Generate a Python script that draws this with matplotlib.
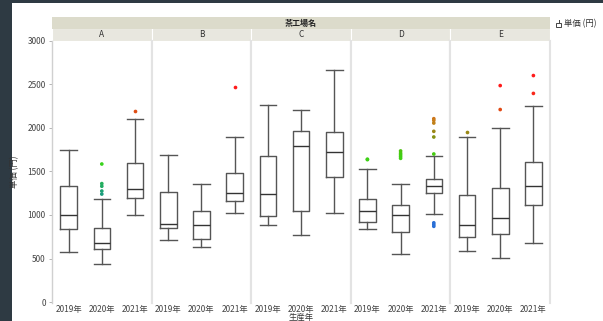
import matplotlib.pyplot as plt
import numpy as np
from matplotlib.colors import LinearSegmentedColormap, Normalize
from matplotlib.lines import Line2D
from matplotlib.patches import Rectangle

plt.rcParams["font.family"] = ["Noto Sans CJK JP", "DejaVu Sans"]

factories = ["A", "B", "C", "D", "E"]
years = ["2019年", "2020年", "2021年"]

# box statistics per factory, one value per year
whislo = [[575, 435, 995], [715, 630, 1025], [890, 765, 1025], [840, 555, 1010], [590, 505, 675]]
q1 = [[840, 615, 1195], [845, 725, 1160], [985, 1050, 1440], [915, 805, 1250], [745, 785, 1115]]
med = [[995, 680, 1300], [895, 885, 1250], [1245, 1790, 1720], [1050, 995, 1330], [880, 970, 1330]]
q3 = [[1330, 850, 1595], [1265, 1050, 1485], [1675, 1965, 1950], [1185, 1115, 1415], [1225, 1310, 1605]]
whishi = [[1745, 1180, 2100], [1690, 1360, 1895], [2260, 2200, 2665], [1525, 1360, 1675], [1900, 1995, 2250]]
fliers = [
    [[], [1585, 1360, 1330, 1275, 1240], [2195]],
    [[], [], [2465]],
    [[], [], []],
    [[1640, 1635], [1735, 1710, 1690, 1670, 1650],
     [2105, 2085, 2055, 1960, 1895, 1700, 910, 890, 870]],
    [[1950], [2210, 2485], [2395, 2600]],
]

# outlier colour follows the price
price_cmap = LinearSegmentedColormap.from_list(
    "price",
    [(0.0, "#2a6fd6"), (0.06, "#2a6fd6"), (0.25, "#1a9e7a"), (0.44, "#3ad41a"),
     (0.5, "#44cc10"), (0.62, "#8c8a14"), (0.71, "#c8801a"), (0.78, "#e04a14"),
     (0.92, "#ff1a1a"), (1.0, "#ff1a1a")],
)
price_norm = Normalize(800, 2600)

W, H = 603, 321
fig = plt.figure(figsize=(W / 100, H / 100), dpi=100, facecolor="#2e3a43")
fig.patches.append(Rectangle((12 / W, 0), 1, 1 - 3 / H, transform=fig.transFigure,
                             facecolor="white", edgecolor="none", zorder=-10))

left, right = 52 / W, 550 / W
bottom, top = 1 - 303 / H, 1 - 40.7 / H
axes = fig.subplots(1, 5, sharey=True)
fig.subplots_adjust(left=left, right=right, bottom=bottom, top=top, wspace=0)

box_color = "#555555"
grid_color = "#e3e3e3"
positions = np.arange(len(years))

for i, ax in enumerate(axes):
    stats = []
    for j in range(len(years)):
        stats.append({"whislo": whislo[i][j], "q1": q1[i][j], "med": med[i][j],
                      "q3": q3[i][j], "whishi": whishi[i][j], "fliers": []})
    ax.bxp(stats, positions=positions, widths=0.5, showfliers=False,
           boxprops={"color": box_color, "linewidth": 1.0},
           whiskerprops={"color": box_color, "linewidth": 1.0},
           capprops={"color": box_color, "linewidth": 1.0},
           medianprops={"color": "#333333", "linewidth": 1.0},
           capwidths=0.5)
    for j in range(len(years)):
        vals = np.array(fliers[i][j], dtype=float)
        if len(vals):
            ax.scatter(np.full(len(vals), positions[j]), vals, c=vals, cmap=price_cmap,
                       norm=price_norm, s=7, linewidths=0, zorder=3)

    ax.set_xlim(-0.5, 2.5)
    ax.set_ylim(-10, 3000)
    ax.set_xticks(positions)
    ax.set_xticklabels(years, fontsize=6, color="#444444")
    ax.tick_params(axis="x", length=0, pad=1.2)
    for side in ["top", "bottom"]:
        ax.spines[side].set_visible(False)
    for side in ["left", "right"]:
        ax.spines[side].set_color(grid_color)
        ax.spines[side].set_linewidth(1.5)

    # facet label strip
    ax.add_patch(Rectangle((0, 1), 1, 12.3 / 262.3, transform=ax.transAxes,
                           facecolor="#e8e7df", edgecolor="white", linewidth=0.8,
                           clip_on=False))
    ax.text(0.5, 1 + 6.2 / 262.3, factories[i], transform=ax.transAxes,
            ha="center", va="center", fontsize=6, color="#333333")

axes[0].set_yticks([0, 500, 1000, 1500, 2000, 2500, 3000])
axes[0].tick_params(axis="y", length=2.5, width=0.6, color="#aaaaaa", pad=2,
                    labelsize=6, labelcolor="#444444")
axes[0].spines["left"].set_color("#d0d0d0")
axes[0].spines["left"].set_linewidth(1.0)
for ax in axes[1:]:
    ax.tick_params(axis="y", length=0)

# outer facet header
fig.patches.append(Rectangle((left, 1 - 28.7 / H), right - left, 11.4 / H,
                             transform=fig.transFigure, facecolor="#dcdbcb",
                             edgecolor="none"))
fig.text((left + right) / 2, 1 - 23 / H, "茶工場名", ha="center", va="center",
         fontsize=5.8, fontweight="bold", color="#222222")

fig.text(15 / W, (bottom + top) / 2, "単価 (円)", rotation=90, ha="center",
         va="center", fontsize=6, color="#333333")
fig.text((left + right) / 2, 1 - 317 / H, "生産年", ha="center", va="center",
         fontsize=6, color="#333333")

# legend glyph
fig.patches.append(Rectangle((556 / W, 1 - 27 / H), 5 / W, 4 / H, transform=fig.transFigure,
                             facecolor="white", edgecolor="#444444", linewidth=0.7))
fig.lines.append(Line2D([558.5 / W, 558.5 / W], [1 - 23 / H, 1 - 20 / H],
                        transform=fig.transFigure, color="#444444", linewidth=0.7))
fig.text(564 / W, 1 - 24 / H, "単価 (円)", ha="left", va="center", fontsize=6,
         color="#333333")

fig.savefig("out.png", dpi=100, facecolor=fig.get_facecolor())
